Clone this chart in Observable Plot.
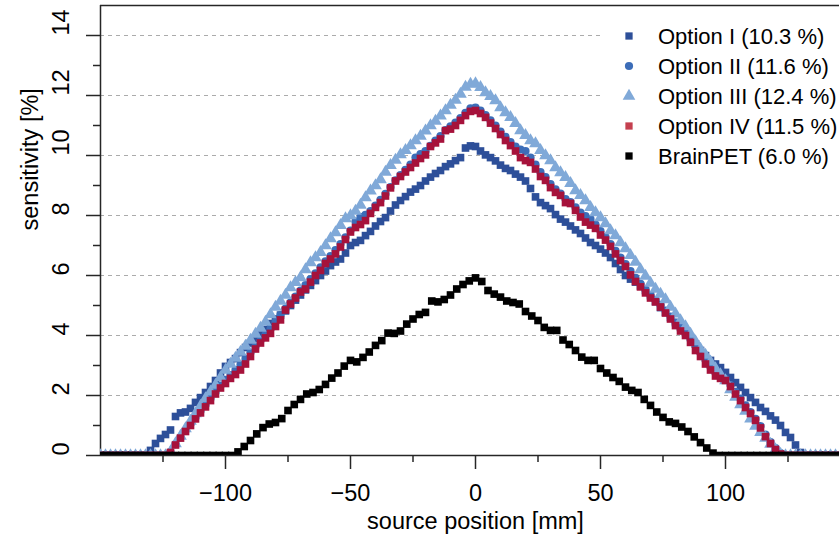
<!DOCTYPE html>
<html>
<head>
<meta charset="utf-8">
<script src="https://cdn.jsdelivr.net/npm/d3@7"></script>
<script src="https://cdn.jsdelivr.net/npm/@observablehq/plot@0.6"></script>
<style>
  html, body { margin: 0; padding: 0; background: #fff; overflow: hidden; }
  #wrap { position: relative; width: 851px; height: 545px; }
  #legend { position: absolute; left: 0; top: 0; pointer-events: none; }
</style>
</head>
<body>
<div id="wrap"></div>
<script>
// ---------- data ----------
// source positions (mm): options sampled every 2 mm, BrainPET every 2.5 mm
const positionsOpt = d3.range(-150, 151, 2);      // 151 positions
const positionsBrain = d3.range(-150, 150.1, 2.5); // 121 positions

const seriesNames = ["Option I (10.3 %)", "Option II (11.6 %)", "Option III (12.4 %)", "Option IV (11.5 %)", "BrainPET (6.0 %)"];

// rows of 10 values: -150..-132, -130..-112, ..., 130..148, then 150
const optionI = [
  0,0,0,0,0,0,0,0,0,0,
  0.17,0.4,0.57,0.7,0.85,1.3,1.42,1.45,1.57,1.77,
  1.93,2.1,2.3,2.5,2.75,2.97,3.1,3.23,3.43,3.6,
  3.75,3.9,4.07,4.2,4.4,4.55,4.68,4.82,5.0,5.18,
  5.35,5.52,5.67,5.83,6.0,6.15,6.33,6.45,6.55,6.75,
  7.0,7.1,7.17,7.33,7.47,7.65,7.8,7.93,8.15,8.35,
  8.5,8.63,8.78,8.88,9.0,9.15,9.28,9.4,9.5,9.63,
  9.72,9.83,9.93,10.25,10.32,10.3,10.15,10.02,9.93,9.82,
  9.68,9.57,9.5,9.38,9.28,9.15,8.9,8.62,8.43,8.33,
  8.23,8.03,7.88,7.78,7.65,7.52,7.4,7.25,7.1,7.0,
  6.88,6.75,6.6,6.4,6.2,6.0,5.88,5.78,5.65,5.5,
  5.33,5.13,4.93,4.77,4.6,4.43,4.27,4.1,3.93,3.72,
  3.5,3.33,3.17,3.05,2.93,2.77,2.6,2.43,2.27,2.1,
  1.93,1.77,1.6,1.47,1.32,1.18,1.0,0.77,0.6,0.35,
  0.1,0,0,0,0,0,0,0,0,0,
  0
];

const optionII = [
  0,0,0,0,0,0,0,0,0,0,
  0,0,0,0,0.12,0.38,0.6,0.83,1.05,1.27,
  1.48,1.68,1.9,2.12,2.33,2.52,2.68,2.85,3.02,3.22,
  3.43,3.63,3.83,4.02,4.22,4.45,4.68,4.9,5.1,5.3,
  5.5,5.68,5.88,6.07,6.27,6.47,6.65,6.85,7.05,7.27,
  7.5,7.8,7.95,8.02,8.15,8.33,8.52,8.72,8.95,9.17,
  9.35,9.52,9.7,9.93,10.05,10.15,10.32,10.5,10.65,10.85,
  10.97,11.1,11.25,11.42,11.57,11.6,11.5,11.35,11.17,11.0,
  10.8,10.62,10.45,10.3,10.2,10.15,9.93,9.7,9.45,9.28,
  9.05,8.87,8.73,8.55,8.45,8.27,8.1,7.98,7.88,7.7,
  7.48,7.28,7.05,6.82,6.6,6.38,6.15,5.92,5.72,5.52,
  5.33,5.18,5.02,4.83,4.63,4.43,4.27,4.12,3.9,3.65,
  3.42,3.18,2.95,2.75,2.65,2.55,2.35,2.12,1.9,1.67,
  1.45,1.22,0.98,0.7,0.45,0.25,0.08,0,0,0,
  0,0,0,0,0,0,0,0,0,0,
  0
];

const optionIII = [
  0,0,0,0,0,0,0,0,0,0,
  0,0,0,0,0.12,0.4,0.65,0.9,1.15,1.4,
  1.65,1.9,2.12,2.35,2.6,2.85,3.05,3.25,3.45,3.65,
  3.85,4.05,4.25,4.45,4.7,4.95,5.15,5.35,5.6,5.77,
  5.93,6.2,6.43,6.6,6.77,7.0,7.23,7.43,7.67,7.9,
  8.0,8.15,8.35,8.6,8.82,9.0,9.2,9.45,9.67,9.85,
  10.03,10.17,10.33,10.5,10.65,10.82,11.0,11.15,11.32,11.5,
  11.68,11.85,12.05,12.28,12.38,12.4,12.27,12.1,11.97,11.83,
  11.6,11.43,11.27,11.07,10.83,10.67,10.5,10.4,10.17,10.0,
  9.83,9.6,9.43,9.27,9.07,8.83,8.67,8.5,8.27,8.1,
  7.93,7.73,7.5,7.33,7.1,6.9,6.67,6.45,6.2,5.98,
  5.75,5.55,5.38,5.2,4.95,4.72,4.5,4.3,4.05,3.8,
  3.55,3.35,3.12,2.9,2.7,2.5,2.2,1.95,1.7,1.48,
  1.22,0.98,0.77,0.58,0.38,0.2,0.05,0,0,0,
  0,0,0,0,0,0,0,0,0,0,
  0
];

const optionIV = [
  0,0,0,0,0,0,0,0,0,0,
  0,0,0,0,0.1,0.35,0.58,0.8,1.0,1.22,
  1.42,1.62,1.83,2.05,2.25,2.4,2.57,2.7,2.85,3.05,
  3.3,3.55,3.75,3.92,4.07,4.3,4.52,4.85,5.05,5.25,
  5.45,5.55,5.78,6.0,6.17,6.4,6.55,6.72,6.95,7.2,
  7.45,7.6,7.7,7.83,8.07,8.27,8.43,8.65,8.92,9.15,
  9.3,9.45,9.6,9.75,9.9,10.02,10.3,10.42,10.55,10.83,
  10.88,11.0,11.17,11.33,11.47,11.5,11.4,11.27,11.08,10.9,
  10.7,10.5,10.33,10.15,9.93,9.83,9.77,9.55,9.3,9.17,
  8.93,8.77,8.67,8.43,8.4,8.17,7.95,7.78,7.68,7.57,
  7.35,7.18,6.97,6.72,6.5,6.3,6.02,5.8,5.62,5.42,
  5.25,5.12,4.95,4.75,4.55,4.33,4.15,4.0,3.77,3.5,
  3.3,3.05,2.85,2.65,2.57,2.5,2.3,2.05,1.83,1.6,
  1.4,1.17,0.92,0.63,0.4,0.2,0.05,0,0,0,
  0,0,0,0,0,0,0,0,0,0,
  0
];

// rows of 10 values: -150..-127.5, -125..-102.5, ..., 125..147.5, then 150
const brainPET = [
  0,0,0,0,0,0,0,0,0,0,
  0,0,0,0,0,0,0,0,0,0,
  0,0,0.12,0.3,0.5,0.72,0.93,1.05,1.1,1.23,
  1.5,1.7,1.87,2.05,2.1,2.2,2.37,2.58,2.75,2.98,
  3.17,3.12,3.27,3.45,3.67,3.83,4.08,4.07,4.15,4.38,
  4.55,4.7,4.77,5.15,5.12,5.2,5.35,5.55,5.7,5.82,
  5.92,5.8,5.5,5.38,5.28,5.15,5.1,5.05,4.8,4.65,
  4.5,4.27,4.17,4.17,3.85,3.7,3.5,3.28,3.17,3.17,
  2.9,2.75,2.6,2.47,2.28,2.17,2.1,1.87,1.67,1.45,
  1.27,1.12,1.07,0.95,0.8,0.62,0.43,0.25,0.08,0,
  0,0,0,0,0,0,0,0,0,0,
  0,0,0,0,0,0,0,0,0,0,
  0
];

// axis ticks
const xMajorTicks = [-100, -50, 0, 50, 100];
const xMinorTicks = [-125, -75, -25, 25, 75, 125];
const yMajorTicks = [0, 2, 4, 6, 8, 10, 12, 14];
const yMinorTicks = [1, 3, 5, 7, 9, 11, 13];
const gridTicks = [2, 4, 6, 8, 10, 12, 14];

// ---------- styles ----------
const FONT = "'Liberation Sans', Arial, Helvetica, sans-serif";
const AXIS_FS = 23.5;
const LEGEND_FS = 22;
const colors = ["#2d4f99", "#3c6db8", "#80a9d8", "#a6123b", "#000000"];
const legendColors = ["#2d4f99", "#3c6db8", "#80a9d8", "#c4404f", "#000000"];
const symbols = ["square", "circle", "triangle", "square", "square"];
const radii = [4.3, 4.1, 4.7, 4.3, 4.3];
const legendRadii = [4.1, 4.1, 4.7, 4.1, 4.1];
const axisColor = "#262626";
const fmt = d => (d < 0 ? "\u2212" + Math.abs(d) : String(d));

const series = [
  {pos: positionsOpt, val: optionI},
  {pos: positionsOpt, val: optionII},
  {pos: positionsOpt, val: optionIII},
  {pos: positionsOpt, val: optionIV},
  {pos: positionsBrain, val: brainPET}
];

const dotMarks = series.map((s, k) =>
  Plot.dot(s.val, {
    x: s.pos, y: s.val,
    symbol: symbols[k], r: radii[k],
    fill: colors[k], stroke: "none",
    clip: true
  })
);

const chart = Plot.plot({
  width: 851,
  height: 545,
  marginLeft: 100,
  marginRight: 1,
  marginTop: 5,
  marginBottom: 90,
  x: {domain: [-150, 150], axis: null},
  y: {domain: [0, 15], axis: null},
  style: {fontFamily: FONT, fontSize: AXIS_FS + "px", color: "#000", background: "#fff", maxWidth: "none", overflow: "visible"},
  marks: [
    Plot.ruleY(gridTicks, {stroke: "#ababab", strokeWidth: 1, strokeDasharray: "4,4"}),
    Plot.ruleX([-150], {stroke: axisColor, strokeWidth: 1.5}),
    Plot.ruleY([15], {stroke: axisColor, strokeWidth: 1.5}),
    Plot.ruleX([150], {stroke: axisColor, strokeWidth: 1.5}),
    ...dotMarks,
    Plot.ruleY([0], {stroke: axisColor, strokeWidth: 1.5}),
    Plot.axisX({ticks: xMajorTicks, tickSize: 14, tickFormat: () => "", label: null, stroke: axisColor, strokeWidth: 1.5}),
    Plot.axisX({ticks: xMinorTicks, tickSize: 7, tickFormat: () => "", label: null, stroke: axisColor, strokeWidth: 1.5}),
    Plot.axisY({ticks: yMajorTicks, tickSize: 14, tickFormat: () => "", label: null, stroke: axisColor, strokeWidth: 1.5}),
    Plot.axisY({ticks: yMinorTicks, tickSize: 7, tickFormat: () => "", label: null, stroke: axisColor, strokeWidth: 1.5}),
    Plot.text(xMajorTicks, {x: d => d, frameAnchor: "bottom", dy: 45, text: fmt, fontSize: AXIS_FS, fill: "#000"}),
    Plot.text(yMajorTicks, {y: d => d, frameAnchor: "left", dx: -39, rotate: -90, text: fmt, fontSize: AXIS_FS, fill: "#000"}),
    Plot.text(["source position [mm]"], {frameAnchor: "bottom", dy: 73, fontSize: AXIS_FS, fill: "#000"}),
    Plot.text(["sensitivity [%]"], {frameAnchor: "left", dx: -70, rotate: -90, fontSize: AXIS_FS, fill: "#000"})
  ]
});

const wrap = document.getElementById("wrap");
wrap.appendChild(chart);

// ---------- legend (inside plot area, white background) ----------
const leg = d3.select(wrap).append("svg")
  .attr("id", "legend")
  .attr("width", 851).attr("height", 545)
  .style("font-family", FONT);

leg.append("rect").attr("x", 604).attr("y", 16).attr("width", 247).attr("height", 160).attr("fill", "#fff");

const symMap = {square: d3.symbolSquare, circle: d3.symbolCircle, triangle: d3.symbolTriangle};
seriesNames.forEach((name, k) => {
  const cy = 36 + k * 30;
  leg.append("path")
    .attr("transform", `translate(629,${cy})`)
    .attr("d", d3.symbol(symMap[symbols[k]], Math.PI * legendRadii[k] * legendRadii[k])())
    .attr("fill", legendColors[k]);
  leg.append("text")
    .attr("x", 658).attr("y", cy + 7.5)
    .attr("font-size", LEGEND_FS)
    .attr("fill", "#000")
    .text(name);
});
</script>
</body>
</html>
